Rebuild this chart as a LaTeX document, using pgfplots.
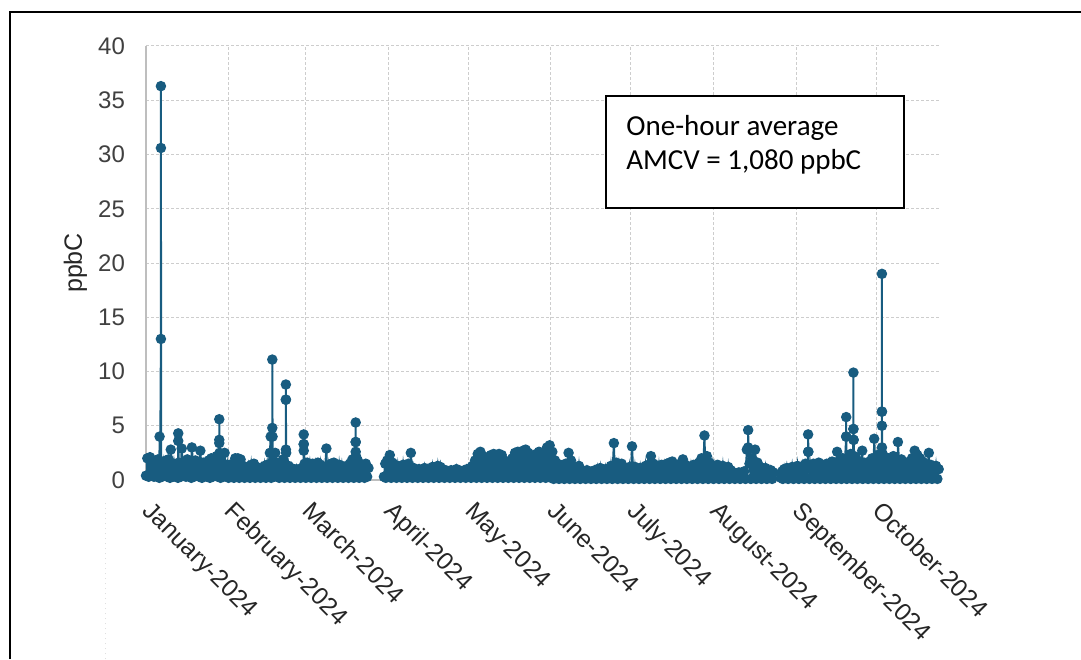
\documentclass[border=0pt]{standalone}
\usepackage{pgfplots}
\pgfplotsset{compat=1.18}
\usepackage{fontspec}
\setmainfont{Liberation Sans}
\newfontfamily\boxfont{Carlito}
\definecolor{ser}{RGB}{24,92,128}
\definecolor{gridc}{RGB}{205,205,205}
\definecolor{axc}{RGB}{190,190,190}
\definecolor{tickc}{RGB}{64,64,64}
\begin{document}
\begin{tikzpicture}
\useasboundingbox (0,0) rectangle (540.5pt,329.5pt);
\draw[line width=1pt,black] (4.75pt,0) -- (4.75pt,323.25pt) -- (540.5pt,323.25pt);
\draw[gray!25,dotted,line width=0.5pt] (52.5pt,0) -- (52.5pt,79.5pt);
\begin{axis}[
  at={(73pt,89.5pt)}, anchor=south west,
  width=397pt, height=217pt, scale only axis,
  xmin=0, xmax=298, ymin=0, ymax=40,
  ytick={0,5,...,40},
  xtick={0,31,60,91,121,152,182,213,244,274},
  xticklabels={January-2024,February-2024,March-2024,April-2024,May-2024,June-2024,July-2024,August-2024,September-2024,October-2024},
  axis lines*=left,
  axis line style={axc, line width=0.6pt},
  major tick length=0pt,
  grid=major,
  grid style={gridc, dash pattern=on 1.5pt off 1pt, line width=0.5pt},
  /pgf/number format/assume math mode=true,
  tick label style={font=\fontsize{12}{14}\selectfont, text=tickc},
  yticklabel style={anchor=east, xshift=-7pt},
  xticklabel style={xshift=4pt, yshift=-5pt, rotate=-45, anchor=north west, font=\fontsize{12.3}{14}\selectfont, text=black!85},
  ylabel={ppbC},
  ylabel style={at={(axis description cs:-0.089,0.5)}, anchor=center, font=\fontsize{12.5}{14}\selectfont, text=black!85},
  unbounded coords=jump,
]
\addplot[color=ser, line width=1pt, mark=*, mark size=2.1pt, mark options={solid, fill=ser, draw=ser}] coordinates {
(0,0.4)(0.5,2.0)(1,0.3)(1.5,2.1)(2,0.5)(2.5,1.8)(3,0.3)(3.5,1.6)(4,0.4)(4.5,1.9)(5,0.2)(5.1,4.0)(5.3,0.5)(5.6,13.0)(5.6,36.3)(5.6,30.6)(5.7,1.7)(6,0.3)(6.5,1.5)(7,0.4)(7.5,1.8)(8,0.3)(8.5,1.9)(9,0.2)(9.3,2.8)(10,0.3)(10.5,1.5)(11,0.4)(11.5,1.3)(12,0.2)(12.1,3.6)(12.1,4.3)(12.3,1.6)(13,0.3)(13.4,2.9)(14,0.4)(14.5,1.6)(15,0.3)(15.5,1.9)(16,0.4)(16.5,1.7)(17,0.2)(17.2,3.0)(18,0.3)(18.5,1.8)(19,0.4)(19.5,1.5)(20,0.3)(20.4,2.7)(21,0.2)(21.5,1.6)(22,0.4)(22.5,1.4)(23,0.3)(23.5,1.8)(24,0.2)(24.5,2.0)(25,0.3)(25.5,1.5)(26,0.4)(26.5,2.2)(27,0.3)(27.5,3.4)(27.5,5.6)(27.5,3.7)(27.6,2.5)(28,0.2)(28.5,2.4)(29,0.3)(29.5,2.5)(30,0.4)(30.5,1.4)
(31,0.2)(31.5,1.2)(32,0.3)(32.5,1.5)(33,0.2)(33.5,2.0)(34,0.3)(34.5,2.0)(35,0.2)(35.5,1.9)(36,0.4)(36.5,1.3)(37,0.2)(37.5,1.1)(38,0.3)(38.5,1.2)(39,0.2)(39.5,1.4)(40,0.3)(40.5,1.5)(41,0.2)(41.5,1.2)(42,0.3)(42.5,1.0)(43,0.2)(43.5,1.1)(44,0.3)(44.5,1.3)(45,0.2)(45.5,1.4)(46,0.3)(46.5,2.5)(46.8,4.0)(47,0.2)(47.4,4.8)(47.4,11.1)(47.5,4.0)(47.6,1.8)(48,0.3)(48.5,2.5)(49,0.4)(49.5,1.6)(50,0.2)(50.5,1.4)(51,0.3)(51.5,1.9)(52,0.2)(52.5,2.8)(52.5,7.4)(52.5,8.8)(52.5,7.4)(52.6,2.5)(53,0.3)(53.5,1.3)(54,0.2)(54.5,1.1)(55,0.3)(55.5,0.9)(56,0.2)(56.5,1.0)(57,0.3)(57.5,0.8)(58,0.2)(58.5,1.1)(59,0.3)(59.2,2.7)(59.2,3.3)(59.2,4.2)(59.2,3.3)(59.5,1.5)
(60,0.2)(60.5,1.6)(61,0.3)(61.5,1.4)(62,0.2)(62.5,1.5)(63,0.3)(63.5,1.3)(64,0.2)(64.5,1.6)(65,0.3)(65.5,1.4)(66,0.2)(66.5,1.2)(67,0.3)(67.7,2.9)(68,0.2)(68.5,1.3)(69,0.3)(69.5,1.5)(70,0.2)(70.5,1.6)(71,0.3)(71.5,1.2)(72,0.2)(72.5,1.4)(73,0.3)(73.5,1.3)(74,0.2)(74.5,1.1)(75,0.3)(75.5,1.3)(76,0.2)(76.5,1.5)(77,0.3)(77.5,1.9)(78,0.2)(78.7,2.6)(78.7,3.5)(78.7,5.3)(78.7,3.5)(78.8,2.2)(79,0.3)(79.5,1.8)(80,0.2)(80.5,1.4)(81,0.3)(81.5,1.2)(82,0.2)(82.5,1.5)(83,0.3)(83.5,1.1)(83.7,nan)
(89.3,0.3)(89.8,1.5)(90,0.2)(90.5,1.8)(91,0.3)(91.5,2.3)(92,0.2)(92.5,1.6)(93,0.3)(93.5,1.2)(94,0.2)(94.5,1.3)(95,0.3)(95.5,1.1)(96,0.2)(96.5,1.4)(97,0.3)(97.5,1.2)(98,0.2)(98.5,1.5)(99,0.3)(99.4,2.5)(100,0.2)(100.5,1.1)(101,0.3)(101.5,0.9)(102,0.2)(102.5,1.0)(103,0.3)(103.5,0.9)(104,0.2)(104.5,1.1)(105,0.3)(105.5,1.0)(106,0.2)(106.5,0.9)(107,0.3)(107.5,1.2)(108,0.2)(108.5,1.0)(109,0.3)(109.5,1.3)(110,0.2)(110.5,1.2)(111,0.3)(111.5,0.8)(112,0.2)(112.5,0.9)(113,0.3)(113.5,0.8)(114,0.2)(114.5,0.9)(115,0.3)(115.5,0.8)(116,0.2)(116.5,1.0)(117,0.3)(117.5,0.9)(118,0.2)(118.5,0.8)(119,0.3)(119.5,0.9)(120,0.2)(120.5,1.0)
(121,0.3)(121.5,0.9)(122,0.2)(122.5,1.3)(123,0.3)(123.5,1.8)(124,0.2)(124.5,2.4)(125,0.3)(125.5,2.6)(126,0.2)(126.5,2.2)(127,0.3)(127.5,1.6)(128,0.2)(128.5,1.5)(129,0.3)(129.5,2.3)(130,0.2)(130.5,2.4)(131,0.3)(131.5,1.9)(132,0.2)(132.5,2.4)(133,0.3)(133.5,2.3)(134,0.2)(134.5,1.8)(135,0.3)(135.5,1.6)(136,0.2)(136.5,1.4)(137,0.3)(137.5,2.0)(138,0.2)(138.5,2.5)(139,0.3)(139.5,2.6)(140,0.2)(140.5,2.4)(141,0.3)(141.5,2.7)(142,0.2)(142.5,2.8)(143,0.3)(143.5,2.5)(144,0.2)(144.5,2.1)(145,0.3)(145.5,1.8)(146,0.2)(146.5,2.4)(147,0.3)(147.5,2.6)(148,0.2)(148.5,2.0)(149,0.3)(149.5,2.4)(150,0.2)(150.5,3.0)(151,0.3)(151.5,3.2)
(152,0.2)(152.5,2.6)(153,0.1)(153.5,1.8)(154,0.2)(154.5,1.2)(155,0.1)(155.5,1.4)(156,0.2)(156.5,1.0)(157,0.1)(157.5,1.5)(158,0.2)(158.6,2.5)(159,0.1)(159.5,1.8)(160,0.2)(160.5,1.2)(161,0.1)(161.5,1.0)(162,0.2)(162.5,1.3)(163,0.1)(163.5,0.8)(164,0.2)(164.5,0.7)(165,0.1)(165.5,0.9)(166,0.2)(166.5,0.6)(167,0.1)(167.5,0.8)(168,0.2)(168.5,0.9)(169,0.1)(169.5,1.0)(170,0.2)(170.5,1.1)(171,0.1)(171.5,0.9)(172,0.2)(172.5,1.0)(173,0.1)(173.5,0.8)(174,0.2)(174.5,1.3)(175,0.1)(175.6,3.4)(176,0.2)(176.5,1.6)(177,0.1)(177.5,1.3)(178,0.2)(178.5,1.5)(179,0.1)(179.5,1.0)(180,0.2)(180.5,0.8)(181,0.1)(181.5,1.2)
(182,0.2)(182.4,3.1)(183,0.1)(183.5,1.2)(184,0.2)(184.5,1.0)(185,0.1)(185.5,1.1)(186,0.2)(186.5,0.9)(187,0.1)(187.5,1.3)(188,0.2)(188.5,1.4)(189,0.1)(189.5,2.2)(190,0.2)(190.5,1.5)(191,0.1)(191.5,1.1)(192,0.2)(192.5,1.3)(193,0.1)(193.5,1.4)(194,0.2)(194.5,1.2)(195,0.1)(195.5,1.5)(196,0.2)(196.5,1.6)(197,0.1)(197.5,1.7)(198,0.2)(198.5,1.3)(199,0.1)(199.5,1.1)(200,0.2)(200.5,1.5)(201,0.1)(201.5,1.9)(202,0.2)(202.5,1.4)(203,0.1)(203.5,1.0)(204,0.2)(204.5,1.2)(205,0.1)(205.5,1.4)(206,0.2)(206.5,1.1)(207,0.1)(207.5,1.6)(208,0.2)(208.5,2.0)(209,0.1)(209.6,4.1)(210,0.2)(210.5,2.2)(211,0.1)(211.5,1.6)(212,0.2)(212.5,1.3)
(213,0.1)(213.5,1.2)(214,0.2)(214.5,1.4)(215,0.1)(215.5,1.1)(216,0.2)(216.5,1.3)(217,0.1)(217.5,1.0)(218,0.2)(218.5,1.2)(219,0.1)(219.5,0.9)(220,0.2)(220.5,0.7)(221,0.1)(221.5,0.6)(222,0.2)(222.5,0.7)(223,0.1)(223.5,0.5)(224,0.2)(224.5,0.8)(225,0.1)(225.5,2.8)(226,3.0)(226,4.6)(226.1,2.8)(226.5,1.5)(227,0.1)(227.5,2.0)(228,0.2)(228.6,2.8)(229,0.1)(229.5,1.6)(230,0.2)(230.5,1.2)(231,0.1)(231.5,1.0)(232,0.2)(232.5,1.1)(233,0.1)(233.5,0.8)(234,0.2)(234.5,0.9)(235,0.1)(235.5,0.7)(235.7,nan)
(238.3,0.2)(238.8,0.8)(239,0.1)(239.5,1.0)(240,0.2)(240.5,1.1)(241,0.1)(241.5,0.9)(242,0.2)(242.5,1.2)(243,0.1)(243.5,1.0)
(244,0.2)(244.5,1.3)(245,0.1)(245.5,1.1)(246,0.2)(246.5,1.2)(247,0.1)(247.5,1.5)(248,0.2)(248.5,2.6)(248.5,4.2)(248.6,2.6)(248.8,1.4)(249,0.1)(249.5,1.3)(250,0.2)(250.5,1.5)(251,0.1)(251.5,1.2)(252,0.2)(252.5,1.6)(253,0.1)(253.5,1.4)(254,0.2)(254.5,1.1)(255,0.1)(255.5,1.5)(256,0.2)(256.5,1.3)(257,0.1)(257.5,1.7)(258,0.2)(258.5,1.6)(259,0.1)(259.4,2.6)(260,0.2)(260.5,1.9)(261,0.1)(261.5,2.0)(262,0.2)(262.8,4.0)(262.8,5.8)(262.8,4.0)(263,0.1)(263.5,1.8)(264,0.2)(264.5,2.4)(265,0.1)(265.5,3.7)(265.5,4.7)(265.5,9.9)(265.5,4.7)(265.6,3.7)(265.8,2.2)(266,0.2)(266.5,2.0)(267,0.1)(267.5,1.7)(268,0.2)(268.8,2.7)(269,0.1)(269.5,1.6)(270,0.2)(270.5,1.4)(271,0.1)(271.5,1.7)(272,0.2)(272.5,2.0)(273,0.1)(273.3,3.8)
(274,0.2)(274.5,2.2)(275,0.1)(275.5,2.4)(276,0.2)(276.2,3.0)(276.2,5.0)(276.2,6.3)(276.2,19.0)(276.2,6.3)(276.3,2.5)(277,0.1)(277.5,2.1)(278,0.2)(278.5,2.0)(279,0.1)(279.5,1.9)(280,0.2)(280.5,2.2)(281,0.1)(281.5,1.8)(282,0.2)(282.2,3.5)(283,0.1)(283.5,1.9)(284,0.2)(284.5,1.5)(285,0.1)(285.5,1.6)(286,0.2)(286.5,1.3)(287,0.1)(287.5,2.0)(288,0.2)(288.5,2.7)(289,0.1)(289.5,2.3)(290,0.2)(290.5,2.0)(291,0.1)(291.5,1.7)(292,0.2)(292.5,1.5)(293,0.1)(293.8,2.5)(294,0.2)(294.5,1.4)(295,0.1)(295.5,1.1)(296,0.2)(296.5,1.3)(297,0.1)(297.5,1.0)
};
\end{axis}
\draw[black, line width=0.7pt, fill=white] (303pt,225.5pt) rectangle (452pt,281.5pt);
\node[anchor=base west, inner sep=0pt, font=\boxfont\fontsize{14.5}{17}\selectfont] at (313pt,261.5pt) {One-hour average};
\node[anchor=base west, inner sep=0pt, font=\boxfont\fontsize{14.5}{17}\selectfont] at (313pt,244.5pt) {AMCV = 1,080 ppbC};
\end{tikzpicture}
\end{document}
